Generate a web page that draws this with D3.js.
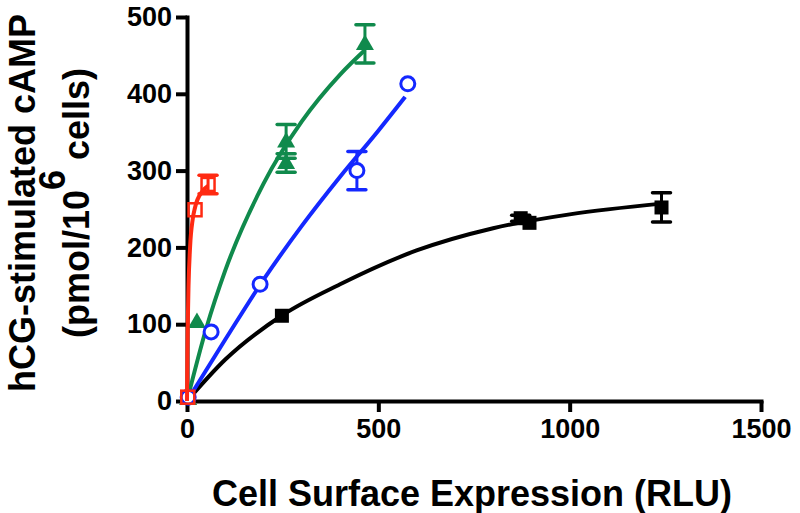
<!DOCTYPE html>
<html><head><meta charset="utf-8">
<script src="https://cdn.jsdelivr.net/npm/d3@7"></script>
<style>html,body{margin:0;padding:0;background:#fff;}svg{display:block;}</style>
</head><body>
<svg id="c" width="800" height="513"></svg>
<script>
// ---- data ----
const xTicks = [0, 500, 1000, 1500];
const yTicks = [0, 100, 200, 300, 400, 500];

const blackX = [3, 248, 872, 895, 1240];
const blackY = [5, 111, 238, 232, 252];
const blackErr = [0, 0, 4, 0, 19];
const blackFitX = [0, 100, 250, 400, 600, 800, 1000, 1240];
const blackFitY = [0, 54, 112, 152, 196, 225, 243, 257];

const blueX = [3, 63, 191, 444, 577];
const blueY = [5, 90, 152, 300, 413];
const blueErr = [0, 0, 0, 25, 0];
const blueFitX = [0, 100, 200, 300, 400, 500, 570];
const blueFitY = [0, 80, 158, 228, 292, 352, 396];

const greenX = [3, 26, 259, 259, 465];
const greenY = [3, 103, 338, 310, 465];
const greenErr = [0, 0, 22, 12, 25];
const greenFitX = [0, 50, 100, 200, 300, 400, 465];
const greenFitY = [0, 94, 170, 283, 364, 425, 457];

const redX = [2, 21, 55];
const redY = [5, 249, 282];
const redErr = [0, 0, 12];
const redFitX = [0, 1, 2, 4, 8, 15, 21, 40, 55];
const redFitY = [0, 60, 100, 150, 200, 237, 252, 273, 280];

// ---- layout ----
const svg = d3.select("#c");
const x = d3.scaleLinear().domain([0, 1500]).range([187, 761]);
const y = d3.scaleLinear().domain([0, 500]).range([401, 17]);
const FONT = "'Liberation Sans', Arial, sans-serif";

const COL = {black: "#000000", blue: "#1428ff", green: "#108a4c", red: "#ff2a12"};

// axes
const gx = svg.append("g").attr("transform", `translate(0,${y(0)})`)
  .call(d3.axisBottom(x).tickValues(xTicks).tickFormat(d3.format("d")).tickSize(11).tickSizeOuter(0).tickPadding(7));
const gy = svg.append("g").attr("transform", `translate(${x(0)},0)`)
  .call(d3.axisLeft(y).tickValues(yTicks).tickFormat(d3.format("d")).tickSize(11).tickSizeOuter(0).tickPadding(4));
[gx, gy].forEach(g => {
  g.select(".domain").attr("stroke", "#000").attr("stroke-width", 4).attr("stroke-linecap", "square");
  g.selectAll(".tick line").attr("stroke", "#000").attr("stroke-width", 4);
  g.selectAll(".tick text").attr("fill", "#000").style("font-family", FONT)
    .style("font-weight", "bold").style("font-size", "27px");
});

// titles
svg.append("text").attr("x", 472).attr("y", 506).attr("text-anchor", "middle")
  .style("font-family", FONT).style("font-weight", "bold").style("font-size", "36px")
  .text("Cell Surface Expression (RLU)");
const yt = svg.append("g").attr("transform", "translate(0,203) rotate(-90)");
yt.append("text").attr("x", 0).attr("y", 35).attr("text-anchor", "middle")
  .style("font-family", FONT).style("font-weight", "bold").style("font-size", "36px")
  .text("hCG-stimulated cAMP");
const t2 = yt.append("text").attr("x", 0).attr("y", 89).attr("text-anchor", "middle")
  .style("font-family", FONT).style("font-weight", "bold").style("font-size", "36px");
t2.append("tspan").text("(pmol/10");
t2.append("tspan").attr("dy", -24).text("6");
t2.append("tspan").attr("dy", 24).text(" cells)");

// series drawing
const line = d3.line().x(d => x(d[0])).y(d => y(d[1])).curve(d3.curveMonotoneX);
function drawSeries(fx, fy, px, py, err, color, marker) {
  const g = svg.append("g");
  g.append("path").datum(d3.zip(fx, fy)).attr("d", line)
    .attr("fill", "none").attr("stroke", color).attr("stroke-width", 4);
  const pts = d3.zip(px, py, err);
  pts.filter(p => p[2] > 0).forEach(p => {
    const cx = x(p[0]), y1 = y(p[1] + p[2]), y2 = y(p[1] - p[2]);
    g.append("line").attr("x1", cx).attr("x2", cx).attr("y1", y1).attr("y2", y2)
      .attr("stroke", color).attr("stroke-width", 3);
    [y1, y2].forEach(yy => g.append("line").attr("x1", cx - 9).attr("x2", cx + 9)
      .attr("y1", yy).attr("y2", yy).attr("stroke", color).attr("stroke-width", 3.5)
      .attr("stroke-linecap", "round"));
  });
  pts.forEach(p => {
    const cx = x(p[0]), cy = y(p[1]);
    if (marker === "fsquare") {
      g.append("rect").attr("x", cx - 7).attr("y", cy - 7).attr("width", 14).attr("height", 14).attr("fill", color);
    } else if (marker === "osquare") {
      g.append("rect").attr("x", cx - 6.5).attr("y", cy - 6.5).attr("width", 13).attr("height", 13)
        .attr("fill", "none").attr("stroke", color).attr("stroke-width", 2.5);
    } else if (marker === "ocircle") {
      g.append("circle").attr("cx", cx).attr("cy", cy).attr("r", 7)
        .attr("fill", "#fff").attr("stroke", color).attr("stroke-width", 3);
    } else if (marker === "triangle") {
      g.append("path").attr("d", d3.symbol().type(d3.symbolTriangle).size(140)())
        .attr("transform", `translate(${cx},${cy + 1})`).attr("fill", color);
    }
  });
}
drawSeries(blackFitX, blackFitY, blackX, blackY, blackErr, COL.black, "fsquare");
drawSeries(greenFitX, greenFitY, greenX, greenY, greenErr, COL.green, "triangle");
drawSeries(blueFitX, blueFitY, blueX, blueY, blueErr, COL.blue, "ocircle");
drawSeries(redFitX, redFitY, redX, redY, redErr, COL.red, "osquare");
</script>
</body></html>
